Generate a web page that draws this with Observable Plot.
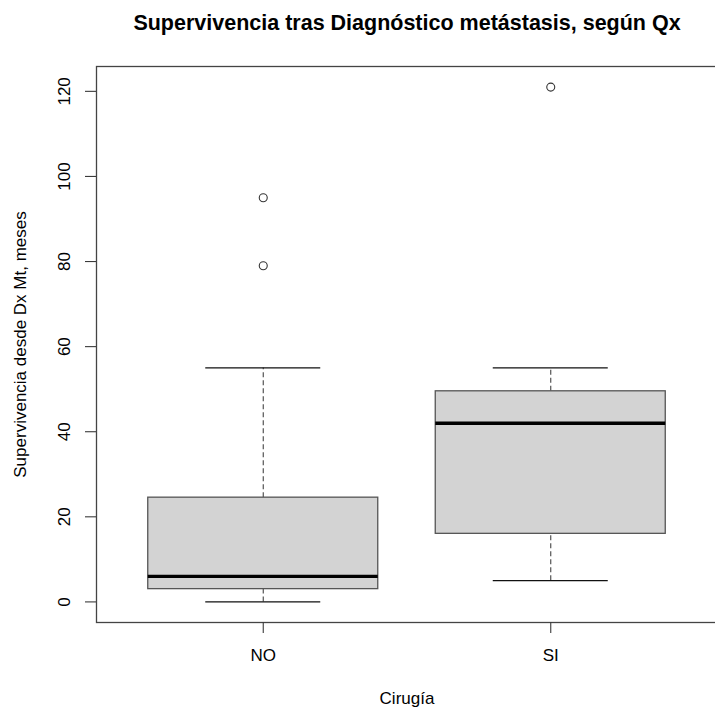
<!DOCTYPE html>
<html>
<head>
<meta charset="utf-8">
<script src="https://cdn.jsdelivr.net/npm/d3@7"></script>
<script src="https://cdn.jsdelivr.net/npm/@observablehq/plot@0.6"></script>
<style>
  html, body { margin: 0; padding: 0; background: #fff; overflow: hidden; }
  #chart svg { display: block; }
</style>
</head>
<body>
<div id="chart"></div>
<script>
// Summary statistics of survival (months) after metastasis diagnosis, by surgery
const groups = ["NO", "SI"];
const whiskerLow = [0, 5];
const q1 = [3, 16];
const median = [6, 42];
const q3 = [24.5, 49.5];
const whiskerHigh = [55, 55];

// Outlying observations
const outlierGroup = ["NO", "NO", "SI"];
const outlierValue = [95, 79, 121];

// Axis ticks and text
const yTicks = [0, 20, 40, 60, 80, 100, 120];
const title = "Supervivencia tras Diagnóstico metástasis, según Qx";
const xTitle = "Cirugía";
const yTitle = "Supervivencia desde Dx Mt, meses";

const boxWidth = 0.8;
const capWidth = 0.4;
const ink = "#3a3a3a";

const stats = groups.map((g, i) => ({
  pos: i + 1,
  lo: whiskerLow[i],
  q1: q1[i],
  med: median[i],
  q3: q3[i],
  hi: whiskerHigh[i]
}));
const outliers = outlierGroup.map((g, i) => ({pos: groups.indexOf(g) + 1, value: outlierValue[i]}));
const xTicks = groups.map((g, i) => i + 1);

// Categories at 1..n on [0.5, n + 0.5], extended by 4%
const xSpan = groups.length;
const xDomain = [0.5 - 0.04 * xSpan, groups.length + 0.5 + 0.04 * xSpan];
const yMax = d3.max([...whiskerHigh, ...outlierValue]);
const yMin = d3.min(whiskerLow);
const yPad = 0.04 * (yMax - yMin);
const yDomain = [yMin - yPad, yMax + yPad];

const chart = Plot.plot({
  width: 715,
  height: 713,
  marginLeft: 96,
  marginRight: -2,
  marginTop: 66,
  marginBottom: 91,
  style: {fontFamily: "'Liberation Sans', Arial, Helvetica, sans-serif", fontSize: "17px", color: "#000", background: "#fff"},
  x: {type: "linear", domain: xDomain, axis: null},
  y: {type: "linear", domain: yDomain, axis: null},
  marks: [
    // whiskers
    Plot.ruleX(stats, {x: "pos", y1: "q3", y2: "hi", stroke: "#444", strokeWidth: 1.1, strokeDasharray: "5,3"}),
    Plot.ruleX(stats, {x: "pos", y1: "lo", y2: "q1", stroke: "#444", strokeWidth: 1.1, strokeDasharray: "5,3"}),
    Plot.ruleY(stats, {y: "hi", x1: d => d.pos - capWidth / 2, x2: d => d.pos + capWidth / 2, stroke: "#111", strokeWidth: 1.1}),
    Plot.ruleY(stats, {y: "lo", x1: d => d.pos - capWidth / 2, x2: d => d.pos + capWidth / 2, stroke: "#111", strokeWidth: 1.1}),
    // boxes
    Plot.rect(stats, {x1: d => d.pos - boxWidth / 2, x2: d => d.pos + boxWidth / 2, y1: "q1", y2: "q3", fill: "#d3d3d3", stroke: "#555", strokeWidth: 1.3}),
    // medians
    Plot.ruleY(stats, {y: "med", x1: d => d.pos - boxWidth / 2, x2: d => d.pos + boxWidth / 2, stroke: "#000", strokeWidth: 3.4}),
    // outliers
    Plot.dot(outliers, {x: "pos", y: "value", r: 4, stroke: "#333", strokeWidth: 1.1, fill: "none"}),
    // frame
    Plot.frame({stroke: "#444", strokeWidth: 1.3}),
    // y axis ticks and labels
    Plot.ruleY(yTicks, {y: d => d, x1: () => xDomain[0], x2: () => xDomain[0], insetLeft: -11, stroke: ink, strokeWidth: 1.1}),
    Plot.text(yTicks, {y: d => d, text: d => String(d), frameAnchor: "left", dx: -31.5, rotate: -90, textAnchor: "middle", lineAnchor: "middle", fill: "#000"}),
    // x axis ticks and labels
    Plot.ruleX(xTicks, {x: d => d, y1: () => yDomain[0], y2: () => yDomain[0], insetBottom: -11, stroke: ink, strokeWidth: 1.1}),
    Plot.text(xTicks, {x: d => d, text: (d, i) => groups[i], frameAnchor: "bottom", dy: 33, lineAnchor: "middle", fill: "#000"}),
    // axis titles
    Plot.text([xTitle], {frameAnchor: "bottom", dy: 76, lineAnchor: "middle", fill: "#000"}),
    Plot.text([yTitle], {frameAnchor: "left", dx: -76, rotate: -90, textAnchor: "middle", lineAnchor: "middle", fill: "#000"}),
    // main title
    Plot.text([title], {frameAnchor: "top", dy: -43, lineAnchor: "middle", fontWeight: "bold", fontSize: 21.5, fill: "#000"})
  ]
});

document.getElementById("chart").appendChild(chart);
</script>
</body>
</html>
